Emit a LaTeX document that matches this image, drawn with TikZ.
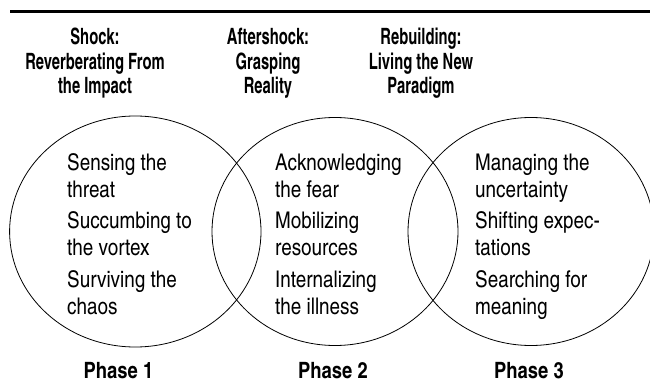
\documentclass[tikz,border=0pt]{standalone}
\usepackage{fontspec}
\setmainfont{TeX Gyre Heros Cn}
\newfontfamily\headfont[FakeStretch=0.8]{TeX Gyre Heros Cn}

\begin{document}
\begin{tikzpicture}[x=1pt,y=-1pt]
      \tikzstyle{head}=[font=\headfont\bfseries\fontsize{22.5}{24.5}\selectfont,align=center,anchor=base,inner sep=0pt]
      \tikzstyle{phase}=[font=\bfseries\fontsize{22.5}{24.5}\selectfont,anchor=base,inner sep=0pt]
      \tikzstyle{item}=[font=\fontsize{23}{27}\selectfont,align=left,anchor=base west,inner sep=0pt]
      \useasboundingbox (0,0) rectangle (650,390);
      \draw[line width=2.5pt] (10,11.7) -- (650,11.7);

      \foreach \x/\rx/\ry in {135.3/125.7/115.5, 335/123/114, 531/123/114}
        \draw[line width=0.8pt] (\x,231.5) ellipse ({\rx pt} and {\ry pt});

      \foreach \name/\txt/\x in {1/{Shock:\\Reverberating From\\the Impact}/95, 2/{Aftershock:\\Grasping\\Reality}/268, 3/{Rebuilding:\\Living the New\\Paradigm}/421}
        \node[head] (H-\name) at (\x,94) {\txt};

      \foreach \name/\txt/\x/\y in {a1/{Sensing the\\threat}/67/197, a2/{Succumbing to\\the vortex}/67/255.5, a3/{Surviving the\\chaos}/67/314,
          b1/{Acknowledging\\the fear}/275/197, b2/{Mobilizing\\resources}/275/255.5, b3/{Internalizing\\the illness}/275/314,
          c1/{Managing the\\uncertainty}/475/197, c2/{Shifting expec-\\tations}/475/255.5, c3/{Searching for\\meaning}/475/314}
        \node[item] (I-\name) at (\x,\y) {\txt};

      \foreach \name/\x in {1/118.5, 2/333, 3/529}
        \node[phase] (P-\name) at (\x,378) {Phase \name};
    \end{tikzpicture}
\end{document}
